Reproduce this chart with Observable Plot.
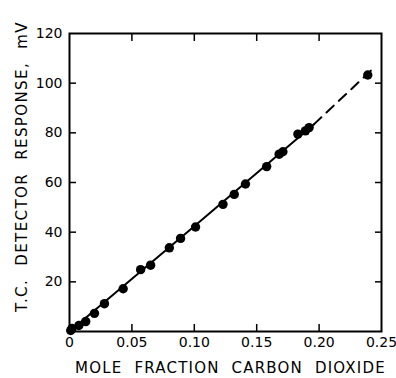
<!DOCTYPE html>
<html><head><meta charset="utf-8">
<script src="https://cdn.jsdelivr.net/npm/d3@7"></script>
<script src="https://cdn.jsdelivr.net/npm/@observablehq/plot@0.6"></script>
<style>
body{margin:0;background:#fff}
#chart svg{display:block}
</style>
</head><body><div id="chart"></div>
<script>
// Measured points (mole fraction CO2, detector response mV)
const co2 =      [0.001, 0.002, 0.0075, 0.013, 0.020, 0.028, 0.043, 0.057, 0.065, 0.080, 0.089, 0.101, 0.123, 0.132, 0.141, 0.158, 0.168, 0.171, 0.183, 0.189, 0.192, 0.239];
const response = [0.4,   1.2,   2.4,    4.0,   7.3,   11.2,  17.2,  24.9,  26.7,  33.7,  37.5,  42.1,  51.2,  55.2,  59.4,  66.4,  71.4,  72.4,  79.5,  80.8,  82.1,  103.3];
// Calibration curve (solid) and its extrapolation (dashed)
const fitX = [0, 0.1, 0.196];
const fitY = [0, 42.4, 83.5];
const extX = [0.196, 0.245];
const extY = [83.5, 106.7];
// Axes
const xTicks = [0, 0.05, 0.10, 0.15, 0.20, 0.25];
const xTickLabels = ["0", "0.05", "0.10", "0.15", "0.20", "0.25"];
const xInner = [0.05, 0.10, 0.15, 0.20];
const yTicks = [20, 40, 60, 80, 100, 120];
const yInner = [20, 40, 60, 80, 100];
const xLabel = "MOLE FRACTION CARBON DIOXIDE";
const yLabel = "T.C. DETECTOR RESPONSE, mV";

const points = co2.map((x, i) => ({x, y: response[i]}));
const fit = fitX.map((x, i) => ({x, y: fitY[i]}));
const ext = extX.map((x, i) => ({x, y: extY[i]}));
const blank = () => "";

const chart = Plot.plot({
  width: 396, height: 378,
  marginLeft: 69, marginRight: 15, marginTop: 33, marginBottom: 47,
  x: {domain: [0, 0.25]},
  y: {domain: [0, 120]},
  style: {fontFamily: "DejaVu Sans", fontSize: "13px", color: "#000", background: "#fff"},
  marks: [
    Plot.axisX(xInner, {anchor: "bottom", tickSize: -7, tickFormat: blank, label: null, strokeWidth: 1.5}),
    Plot.axisX(xInner, {anchor: "top", tickSize: -7, tickFormat: blank, label: null, strokeWidth: 1.5}),
    Plot.axisY(yInner, {anchor: "left", tickSize: -7, tickFormat: blank, label: null, strokeWidth: 1.5}),
    Plot.axisY(yInner, {anchor: "right", tickSize: -7, tickFormat: blank, label: null, strokeWidth: 1.5}),
    Plot.axisX(xTicks, {anchor: "bottom", tickSize: 0, tickPadding: 6, tickFormat: d => xTickLabels[xTicks.indexOf(d)], label: null, fontSize: 14}),
    Plot.axisY(yTicks, {anchor: "left", tickSize: 0, tickPadding: 7, tickFormat: d => String(d), label: null, fontSize: 14}),
    Plot.frame({stroke: "#000", strokeWidth: 2}),
    Plot.line(fit, {x: "x", y: "y", stroke: "#000", strokeWidth: 2}),
    Plot.line(ext, {x: "x", y: "y", stroke: "#000", strokeWidth: 2, strokeDasharray: "10,7"}),
    Plot.dot(points, {x: "x", y: "y", r: 4.7, fill: "#000", stroke: null}),
    Plot.text([xLabel], {frameAnchor: "bottom", text: d => d, dy: 37, dx: 5, fontSize: 15, textAnchor: "middle", lineAnchor: "middle"}),
    Plot.text([yLabel], {frameAnchor: "left", text: d => d, dx: -47, dy: -16, rotate: -90, fontSize: 15, textAnchor: "middle", lineAnchor: "middle"})
  ]
});
chart.querySelectorAll("text").forEach(t => {
  if (t.textContent === xLabel) { t.setAttribute("letter-spacing", "1.2"); t.setAttribute("word-spacing", "6"); }
  if (t.textContent === yLabel) { t.setAttribute("letter-spacing", "1.4"); t.setAttribute("word-spacing", "7"); }
});
document.getElementById("chart").append(chart);
</script>
</body></html>
